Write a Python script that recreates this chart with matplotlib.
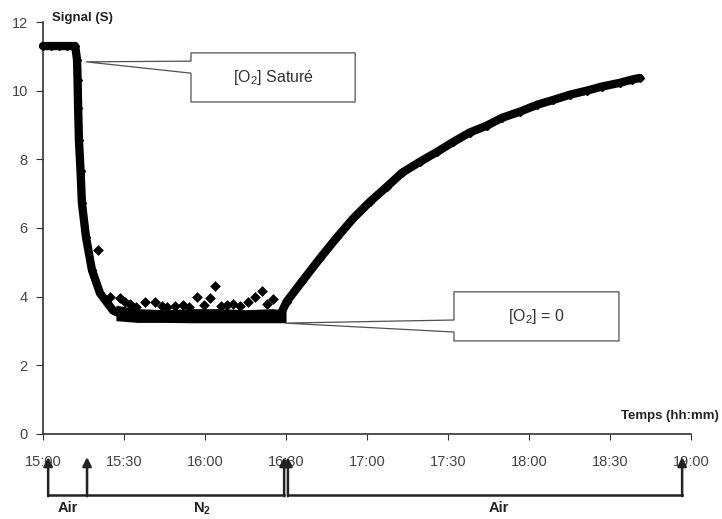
import numpy as np
import matplotlib
matplotlib.use("Agg")
import matplotlib.pyplot as plt
from matplotlib.patches import Polygon

plt.rcParams['font.family'] = ['Liberation Sans', 'DejaVu Sans']
plt.rcParams['mathtext.fontset'] = 'custom'
plt.rcParams['mathtext.rm'] = 'Liberation Sans'
plt.rcParams['mathtext.bf'] = 'Liberation Sans:bold'

# minutes after 15:00 / signal (S)
trace_time = [0, 3, 6, 9, 11.9, 12.6, 12.8, 13.0, 13.3, 13.9, 14.4, 15.9, 18.1, 21.1, 25.9, 30,
              40, 50, 60, 70, 80, 87.5,
              90.2, 96, 102.6, 109, 114.9, 121, 127.3, 133, 139.6, 146, 152, 158, 164.3, 170,
              176.7, 183, 189, 195, 201.4, 207, 213.7, 218, 221]
trace_signal = [11.3, 11.3, 11.3, 11.3, 11.3, 10.9, 10.3, 9.5, 8.56, 7.65, 6.73, 5.74, 4.78, 4.1, 3.6, 3.45,
                3.42, 3.42, 3.42, 3.42, 3.42, 3.4,
                3.85, 4.45, 5.12, 5.74, 6.28, 6.76, 7.2, 7.61, 7.93, 8.22, 8.51, 8.78, 8.98, 9.21,
                9.39, 9.59, 9.73, 9.88, 10.0, 10.12, 10.23, 10.32, 10.37]

# noisy band at [O2] = 0 (lower / upper envelope)
band_time = [27, 35, 45, 55, 65, 75, 85, 90]
band_low = [3.3, 3.25, 3.25, 3.24, 3.24, 3.24, 3.24, 3.24]
band_high = [3.75, 3.65, 3.62, 3.65, 3.65, 3.62, 3.65, 3.6]

# isolated points above the band
spike_time = [20.5, 24.8, 28.5, 30.4, 32.2, 34.5, 37.8, 41.5, 44, 46, 49, 51.9, 54, 57.0, 59.5,
              61.9, 63.7, 66, 68, 70.4, 73, 76, 78.5, 81.1, 83, 85.2]
spike_signal = [5.36, 4.0, 3.96, 3.85, 3.8, 3.7, 3.85, 3.85, 3.72, 3.7, 3.74, 3.76, 3.7, 4.0, 3.75,
                3.96, 4.31, 3.72, 3.75, 3.8, 3.72, 3.85, 4.0, 4.17, 3.78, 3.93]

tick_minutes = [0, 30, 60, 90, 120, 150, 180, 210, 240]
tick_labels = ['15:00', '15:30', '16:00', '16:30', '17:00', '17:30', '18:00', '18:30', '19:00']

# gas phases below the time axis
phase_arrows = [1.9, 16.3, 89.3, 90.7, 236.7]
phase_lines = [(1.9, 89.3), (90.7, 236.7)]
phase_names = ['Air', 'N$_\\mathbf{2}$', 'Air']
phase_name_x = [9, 59, 169]


def callout(ax, tip, box, wedge, text, fs=11.5):
    # box = (left, right, bottom, top), wedge = (low, high) on the left side
    l, r, b, t = box
    pts = [tip, (l, wedge[1]), (l, t), (r, t), (r, b), (l, b), (l, wedge[0])]
    ax.add_patch(Polygon(pts, closed=True, facecolor='white', edgecolor='#505050',
                         lw=0.9, zorder=4, clip_on=False))
    ax.text((l + r) / 2, (b + t) / 2, text, ha='center', va='center',
            fontsize=fs, color='#333333', zorder=5)


fig = plt.figure(figsize=(7.22, 5.19), dpi=100)
ax = fig.add_axes([0.0596, 0.1638, 0.8975, 0.7938])

ax.fill_between(band_time, band_low, band_high, color='black', lw=0, zorder=2)
ax.plot(trace_time, trace_signal, color='black', lw=6, marker='D', ms=4,
        solid_capstyle='round', solid_joinstyle='round', clip_on=False, zorder=3)
ax.scatter(spike_time, spike_signal, marker='D', s=30, color='black', lw=0, zorder=3)

callout(ax, (15.9, 10.84), (54.8, 115.6, 9.67, 11.10), (10.51, 10.86), '[O$_2$] Saturé')
callout(ax, (89.6, 3.23), (152.2, 213.3, 2.71, 4.14), (2.97, 3.32), '[O$_2$] = 0')

ax.set_xlim(0, 240)
ax.set_ylim(0, 12)
ax.set_xticks(tick_minutes)
ax.set_xticklabels(tick_labels)
ax.set_yticks(range(0, 13, 2))
for side in ['top', 'right']:
    ax.spines[side].set_visible(False)
for side in ['left', 'bottom']:
    ax.spines[side].set_color('#333333')
    ax.spines[side].set_linewidth(1.2)
ax.tick_params(axis='x', direction='out', length=4, pad=11, labelsize=10.5,
               colors='#333333', labelcolor='#444444')
ax.tick_params(axis='y', direction='out', length=5, pad=6, labelsize=10.5,
               colors='#333333', labelcolor='#444444')

fig.text(0.072, 0.965, 'Signal (S)', fontsize=9.5, fontweight='bold', color='#222222', va='center')
fig.text(0.995, 0.198, 'Temps (hh:mm)', fontsize=9.5, fontweight='bold', color='#222222',
         ha='right', va='center')

# Air / N2 / Air bracket under the axis
tr = ax.get_xaxis_transform()
y_line, y_tip = -0.148, -0.056
for x0, x1 in phase_lines:
    ax.plot([x0, x1], [y_line, y_line], transform=tr, color='#222222', lw=1.8, clip_on=False)
for x in phase_arrows:
    ax.annotate('', xy=(x, y_tip), xytext=(x, y_line - 0.003), xycoords=tr, textcoords=tr,
                arrowprops=dict(arrowstyle='-|>', color='#222222', lw=1.8, mutation_scale=13,
                                shrinkA=0, shrinkB=0))
for name, x in zip(phase_names, phase_name_x):
    ax.text(x, -0.162, name, transform=tr, ha='center', va='top', fontsize=10.5,
            fontweight='bold', color='#222222')

fig.savefig('out.png', dpi=100)
